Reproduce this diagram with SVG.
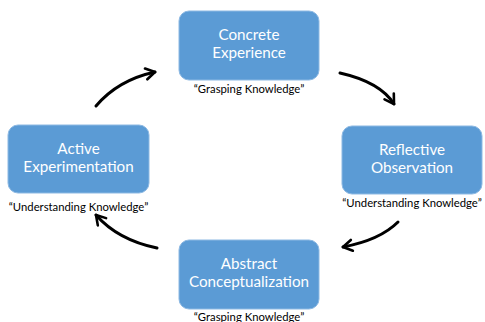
<svg xmlns="http://www.w3.org/2000/svg" width="485" height="322" viewBox="0 0 485 322">
<style>
.box{fill:#5B9BD5;stroke:#8DB9E3;stroke-width:1}
.t{font-family:Lato,"Open Sans","Liberation Sans",sans-serif;font-size:15.2px;fill:#FFFFFF;text-anchor:middle}
.l{font-family:Lato,"Open Sans","Liberation Sans",sans-serif;font-size:11.3px;fill:#000000;text-anchor:middle}
.c{fill:none;stroke:#000000;stroke-width:3;stroke-linecap:round}
</style>
<defs>
<marker id="ah" viewBox="0 0 14 14" refX="11" refY="7" markerWidth="14" markerHeight="14" markerUnits="userSpaceOnUse" orient="auto">
<path d="M2,1.5 L11,7 L2,12.5" fill="none" stroke="#000" stroke-width="2.6" stroke-linecap="round" stroke-linejoin="round"/>
</marker>
</defs>
<rect width="485" height="322" fill="#FFFFFF"/>
<g id="connectors">
<path class="c" d="M96,106 Q118,80 155,72" marker-end="url(#ah)"/>
<path class="c" d="M340,73 Q380,82 394,104" marker-end="url(#ah)"/>
<path class="c" d="M398,222 Q380,240 343,247" marker-end="url(#ah)"/>
<path class="c" d="M157,248 Q118,240 96,215" marker-end="url(#ah)"/>
</g>
<g id="concrete">
<rect class="box" x="179" y="11" width="140" height="69" rx="10"/>
<text class="t" x="249" y="40">Concrete</text>
<text class="t" x="249" y="58">Experience</text>
<text class="l" x="249" y="93">“Grasping Knowledge”</text>
</g>
<g id="reflective">
<rect class="box" x="342" y="126" width="140" height="68" rx="10"/>
<text class="t" x="412" y="155">Reflective</text>
<text class="t" x="412" y="173">Observation</text>
<text class="l" x="412" y="207">“Understanding Knowledge”</text>
</g>
<g id="abstract">
<rect class="box" x="179" y="240" width="140" height="69" rx="10"/>
<text class="t" x="249" y="269">Abstract</text>
<text class="t" x="249" y="287">Conceptualization</text>
<text class="l" x="249" y="321">“Grasping Knowledge”</text>
</g>
<g id="active">
<rect class="box" x="8" y="125" width="141" height="68" rx="10"/>
<text class="t" x="78.5" y="154">Active</text>
<text class="t" x="78.5" y="172">Experimentation</text>
<text class="l" x="78.5" y="211">“Understanding Knowledge”</text>
</g>
</svg>
